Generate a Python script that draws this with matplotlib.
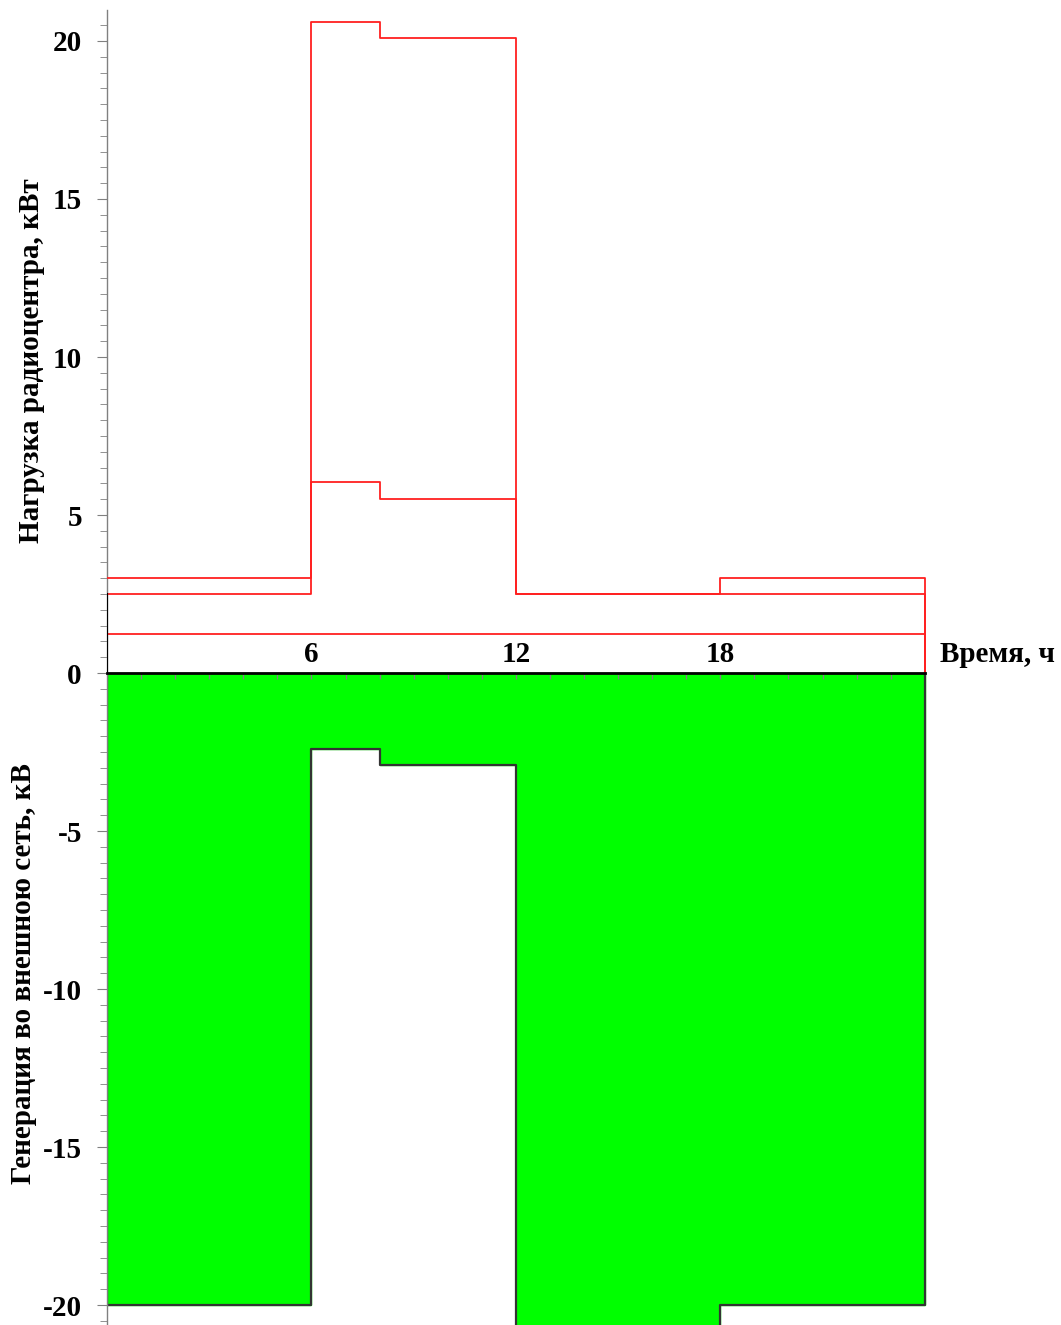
import matplotlib
matplotlib.use("Agg")
import matplotlib.pyplot as plt
from matplotlib.ticker import MultipleLocator

plt.rcParams["axes.unicode_minus"] = False

# Data
hours = [0, 6, 8, 12, 18, 24]
load_top = [3.0, 20.6, 20.1, 2.5, 3.0]
load_mid = [2.5, 6.05, 5.5, 2.5, 2.5]
load_base = [1.25, 1.25, 1.25, 1.25, 1.25]
generation = [-20.0, -2.4, -2.9, -21.0, -20.0]
xtick_labels = ["6", "12", "18"]
xtick_pos = [6, 12, 18]

W, H = 1061, 1325
fig = plt.figure(figsize=(W / 100, H / 100), dpi=100)
ax = fig.add_axes([107 / W, 0, 1 - 107 / W, 1 - 10 / H])
ax.set_xlim(0, 28)
ax.set_ylim(-20.63, 20.98)

font = {"family": "Liberation Serif", "weight": "bold", "size": 21}


def steps(vals):
    xs, ys = [], []
    for i, v in enumerate(vals):
        xs += [hours[i], hours[i + 1]]
        ys += [v, v]
    return xs, ys


# Green generation area with black outline
gx, gy = steps(generation)
px = [0] + gx + [24]
py = [0] + gy + [0]
ax.fill(px, py, color="#00ff00", zorder=1)
ax.plot(px, py, color="#333333", lw=1.6, zorder=2)

# Red load lines
for vals in (load_top, load_mid, load_base):
    sx, sy = steps(vals)
    sx = sx + [24]
    sy = sy + [0]
    ax.plot(sx, sy, color="#ff2020", lw=1.3, zorder=3)

# black segment on left at base
ax.plot([0, 0], [0, 2.5], color="black", lw=1.5, zorder=3)

# Spines
for s in ("top", "right"):
    ax.spines[s].set_visible(False)
ax.spines["left"].set_color("#808080")
ax.spines["left"].set_linewidth(1.0)
ax.spines["bottom"].set_position(("data", 0))
ax.spines["bottom"].set_bounds(0, 24)
ax.spines["bottom"].set_color("black")
ax.spines["bottom"].set_linewidth(2.0)
ax.spines["bottom"].set_zorder(4)

ax.yaxis.set_major_locator(MultipleLocator(5))
ax.yaxis.set_minor_locator(MultipleLocator(0.5))
ax.tick_params(axis="y", which="major", length=7, color="#808080", pad=11,
               labelsize=21)
ax.tick_params(axis="y", which="minor", length=5, color="#808080")
for lab in ax.get_yticklabels():
    lab.set_fontfamily("Liberation Serif")
    lab.set_fontweight("bold")

ax.set_xticks(list(range(1, 24)))
ax.set_xticklabels([])
ax.tick_params(axis="x", which="major", direction="out", length=4,
               color="#808080", width=1)

for p, t in zip(xtick_pos, xtick_labels):
    ax.text(p, 0.6, t, ha="center", va="center", fontdict=font)
ax.text(24.45, 0.6, "Время, ч", ha="left", va="center", fontdict=font)

fig.text(32 / W, 1 - 361 / H, "Нагрузка радиоцентра, кВт", rotation=90,
         ha="center", va="center", fontdict=font)
fig.text(24 / W, 1 - 974 / H, "Генерация во внешною сеть, кВ", rotation=90,
         ha="center", va="center", fontdict=font)

fig.savefig("out.png", dpi=100)
